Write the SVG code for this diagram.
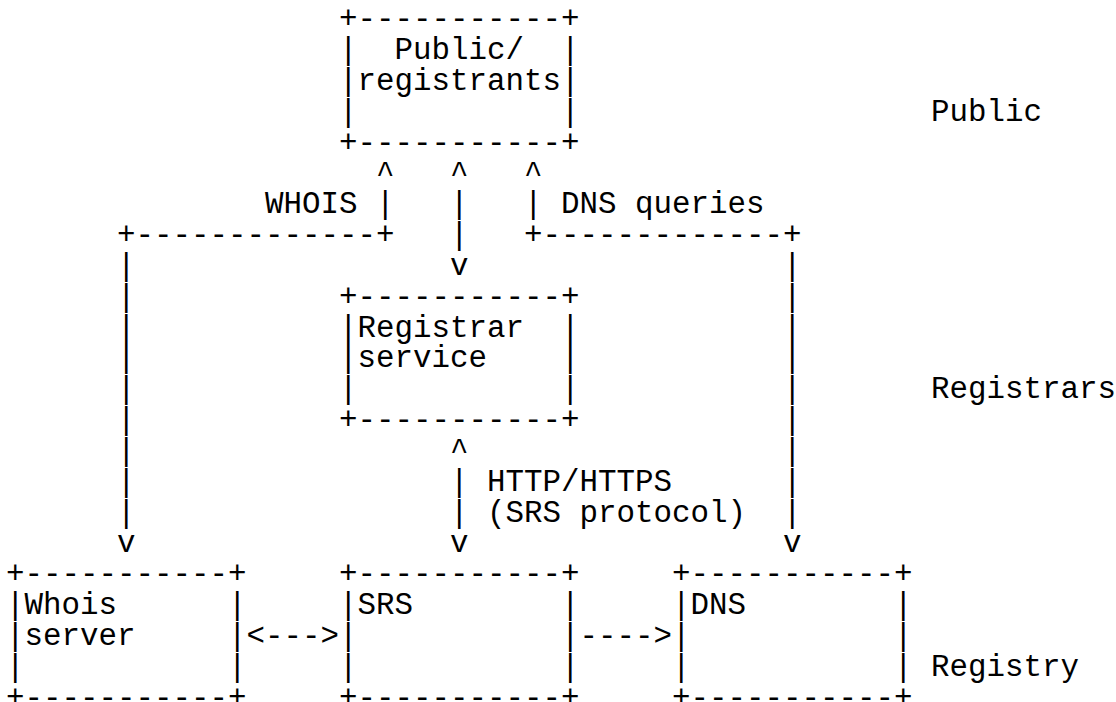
<svg xmlns="http://www.w3.org/2000/svg" width="1116" height="702" viewBox="0 0 1116 702">
<style>
text{font-family:"Courier New","Liberation Mono",monospace;font-size:30.83px;fill:#000;white-space:pre}
</style>
<rect width="1116" height="702" fill="#fff"/>
<g id="node-public" xml:space="preserve">
<text x="339" y="28.3">+-----------+</text>
<text x="339" y="59.1">|  Public/  |</text>
<text x="339" y="90">|registrants|</text>
<text x="339" y="120.8">|           |</text>
<text x="339" y="151.6">+-----------+</text>
</g>
<g id="node-registrar" xml:space="preserve">
<text x="339" y="305.8">+-----------+</text>
<text x="339" y="336.6">|Registrar  |</text>
<text x="339" y="367.4">|service    |</text>
<text x="339" y="398.3">|           |</text>
<text x="339" y="429.1">+-----------+</text>
</g>
<g id="node-whois" xml:space="preserve">
<text x="6" y="583.2">+-----------+</text>
<text x="6" y="614.1">|Whois      |</text>
<text x="6" y="644.9">|server     |</text>
<text x="6" y="675.7">|           |</text>
<text x="6" y="706.6">+-----------+</text>
</g>
<g id="node-srs" xml:space="preserve">
<text x="339" y="583.2">+-----------+</text>
<text x="339" y="614.1">|SRS        |</text>
<text x="339" y="644.9">|           |</text>
<text x="339" y="675.7">|           |</text>
<text x="339" y="706.6">+-----------+</text>
</g>
<g id="node-dns" xml:space="preserve">
<text x="672" y="583.2">+-----------+</text>
<text x="672" y="614.1">|DNS        |</text>
<text x="672" y="644.9">|           |</text>
<text x="672" y="675.7">|           |</text>
<text x="672" y="706.6">+-----------+</text>
</g>
<g id="tier-labels">
<text x="931" y="120.8">Public</text>
<text x="931" y="398.3">Registrars</text>
<text x="931" y="675.7">Registry</text>
</g>
<g id="connectors" xml:space="preserve">
<text x="376" y="182.5">^</text>
<text x="450" y="182.5">^</text>
<text x="524" y="182.5">^</text>
<text x="265" y="213.3">WHOIS |</text>
<text x="450" y="213.3">|</text>
<text x="524" y="213.3">| DNS queries</text>
<text x="117" y="244.1">+-------------+</text>
<text x="450" y="244.1">|</text>
<text x="524" y="244.1">+-------------+</text>
<text x="117" y="275">|</text>
<text x="450" y="275">v</text>
<text x="783" y="275">|</text>
<text x="117" y="305.8">|</text><text x="783" y="305.8">|</text>
<text x="117" y="336.6">|</text><text x="783" y="336.6">|</text>
<text x="117" y="367.4">|</text><text x="783" y="367.4">|</text>
<text x="117" y="398.3">|</text><text x="783" y="398.3">|</text>
<text x="117" y="429.1">|</text><text x="783" y="429.1">|</text>
<text x="117" y="459.9">|</text>
<text x="450" y="459.9">^</text>
<text x="783" y="459.9">|</text>
<text x="117" y="490.8">|</text>
<text x="450" y="490.8">| HTTP/HTTPS</text>
<text x="783" y="490.8">|</text>
<text x="117" y="521.6">|</text>
<text x="450" y="521.6">| (SRS protocol)</text>
<text x="783" y="521.6">|</text>
<text x="117" y="552.4">v</text>
<text x="450" y="552.4">v</text>
<text x="783" y="552.4">v</text>
<text x="246.5" y="644.9">&lt;---&gt;</text>
<text x="579.5" y="644.9">----&gt;</text>
</g>
</svg>
